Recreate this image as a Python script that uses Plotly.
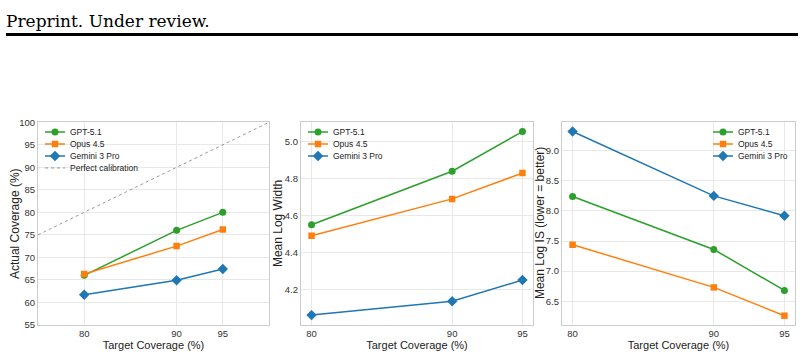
import plotly.graph_objects as go

# ---- data ----
targets = [80, 90, 95]
models = ["GPT-5.1", "Opus 4.5", "Gemini 3 Pro"]
coverage_gpt = [66.0, 76.0, 80.0]
coverage_opus = [66.3, 72.5, 76.2]
coverage_gemini = [61.7, 64.9, 67.4]
width_gpt = [4.55, 4.84, 5.055]
width_opus = [4.49, 4.69, 4.83]
width_gemini = [4.06, 4.135, 4.25]
is_gpt = [8.24, 7.36, 6.68]
is_opus = [7.44, 6.73, 6.26]
is_gemini = [9.32, 8.25, 7.92]
calib_x = [75, 100]
calib_y = [75, 100]
y_titles = ["Actual Coverage (%)", "Mean Log Width", "Mean Log IS (lower = better)"]

colors = {"GPT-5.1": "#2ca02c", "Opus 4.5": "#ff7f0e", "Gemini 3 Pro": "#1f77b4"}
symbols = {"GPT-5.1": "circle", "Opus 4.5": "square", "Gemini 3 Pro": "diamond"}
msize = {"GPT-5.1": 7, "Opus 4.5": 6.5, "Gemini 3 Pro": 8}

W, H = 804, 358
def xd(a, b):
    return [a / W, b / W]
def yd(top, bot):
    return [1 - bot / H, 1 - top / H]

FONT = "Liberation Sans, Arial, sans-serif"
fig = go.Figure()

panels = [
    ("x", "y", "legend", [coverage_gpt, coverage_opus, coverage_gemini]),
    ("x2", "y2", "legend2", [width_gpt, width_opus, width_gemini]),
    ("x3", "y3", "legend3", [is_gpt, is_opus, is_gemini]),
]
for xa, ya, lg, series in panels:
    for m, vals in zip(models, series):
        fig.add_trace(go.Scatter(
            x=targets, y=vals, mode="lines+markers", name=m,
            xaxis=xa, yaxis=ya, legend=lg,
            line=dict(color=colors[m], width=1.5),
            marker=dict(symbol=symbols[m], size=msize[m], color=colors[m]),
        ))
    if xa == "x":
        fig.add_trace(go.Scatter(
            x=calib_x, y=calib_y, mode="lines", name="Perfect calibration",
            xaxis="x", yaxis="y", legend="legend",
            line=dict(color="rgba(128,128,128,0.8)", width=1, dash="dot"),
        ))

axis_common = dict(
    showgrid=True, gridcolor="#e8e8e8", gridwidth=1,
    showline=True, linecolor="#cccccc", linewidth=1.2, mirror=True,
    zeroline=False, ticks="",
    tickfont=dict(family=FONT, size=9.5, color="#333333"),
)
YT = dict(family=FONT, size=12, color="#222222")
xt = dict(tickvals=[80, 90, 95], ticktext=["80", "90", "95"],
          title=dict(text="Target Coverage (%)", font=dict(family=FONT, size=11, color="#222222"), standoff=1))

# y-axis titles as rotated text placed like matplotlib's labels
ytitle_x = [14.5, 277.5, 539.5]
annotations = [dict(text=t, xref="paper", yref="paper", x=px / W, y=1 - 224.5 / H,
                    xanchor="center", yanchor="middle", textangle=-90, showarrow=False, font=YT)
               for t, px in zip(y_titles, ytitle_x)]
annotations.append(dict(text="Preprint. Under review.", xref="paper", yref="paper",
                        x=4 / W, y=1 - 3 / H, xanchor="left", yanchor="top", showarrow=False,
                        font=dict(family="DejaVu Serif, serif", size=17, color="#000000")))

LEGFONT = dict(family=FONT, size=8.5, color="#222222")
fig.update_layout(
    width=W, height=H, margin=dict(l=0, r=0, t=0, b=0),
    paper_bgcolor="white", plot_bgcolor="white",
    showlegend=True,
    xaxis=dict(**axis_common, **xt, domain=xd(38, 269), range=[75, 100], anchor="y"),
    yaxis=dict(**axis_common, domain=yd(120, 329), range=[55, 100], tickvals=list(range(55, 101, 5)),
               anchor="x"),
    xaxis2=dict(**axis_common, **xt, domain=xd(301, 533), range=[79.25, 95.75], anchor="y2"),
    yaxis2=dict(**axis_common, domain=yd(120, 329), range=[4.007, 5.105], tickvals=[4.2, 4.4, 4.6, 4.8, 5.0],
                tickformat=".1f", anchor="x2"),
    xaxis3=dict(**axis_common, **xt, domain=xd(562, 795), range=[79.25, 95.75], anchor="y3"),
    yaxis3=dict(**axis_common, domain=yd(120, 329), range=[6.107, 9.473], tickvals=[6.5, 7.0, 7.5, 8.0, 8.5, 9.0],
                tickformat=".1f", anchor="x3"),
    legend=dict(x=40 / W, y=1 - 115 / H, xanchor="left", yanchor="top", bgcolor="rgba(0,0,0,0)",
                font=LEGFONT, itemwidth=30),
    legend2=dict(x=303 / W, y=1 - 115 / H, xanchor="left", yanchor="top", bgcolor="rgba(0,0,0,0)",
                 font=LEGFONT, itemwidth=30),
    legend3=dict(x=708 / W, y=1 - 115 / H, xanchor="left", yanchor="top", bgcolor="rgba(0,0,0,0)",
                 font=LEGFONT, itemwidth=30),
    annotations=annotations,
    shapes=[dict(type="line", xref="paper", yref="paper", x0=6 / W, x1=798 / W,
                 y0=1 - 29.5 / H, y1=1 - 29.5 / H, line=dict(color="black", width=3))],
)

# compact legend layout (matplotlib-like spacing and handle length)
post = r"""
(function(){
  var gd = document.getElementById('{plot_id}');
  function fix(){
    try {
      gd.querySelectorAll('g.scrollbox').forEach(function(sb){
        var items = sb.querySelectorAll('g.traces');
        var y0 = null;
        items.forEach(function(t, i){
          if (t.getAttribute('data-x0') === null) {
            var tr = t.getAttribute('transform') || '';
            var m = tr.match(/translate\(\s*([-\d.e]+)[\s,]+([-\d.e]+)\s*\)/);
            if (!m) return;
            t.setAttribute('data-x0', m[1]);
            t.setAttribute('data-y0', m[2]);
          }
          var x = parseFloat(t.getAttribute('data-x0'));
          var y = parseFloat(t.getAttribute('data-y0'));
          if (y0 === null) { y0 = y; }
          t.setAttribute('transform', 'translate(' + (x - 10) + ',' + (y0 + i * 12) + ')');
          t.querySelectorAll('path.js-line').forEach(function(p){ p.setAttribute('d', 'M15,0h20'); });
          t.querySelectorAll('g.legendpoints path.scatterpts').forEach(function(p){ p.setAttribute('transform', 'translate(25,0)'); });
        });
      });
    } catch (e) {}
  }
  fix();
  if (window.requestAnimationFrame) requestAnimationFrame(fix);
  [30, 100, 250, 500, 1000].forEach(function(ms){ setTimeout(fix, ms); });
})();
"""

fig.write_html("out.html", post_script=post)
